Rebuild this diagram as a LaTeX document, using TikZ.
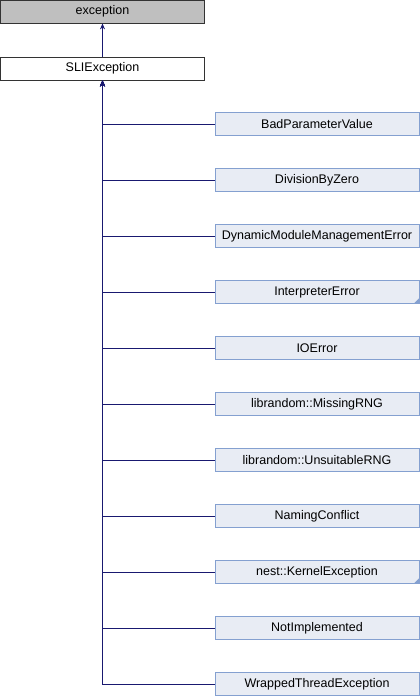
\documentclass[tikz,border=0pt]{standalone}
\usepackage{fontspec}
\setmainfont{Liberation Sans}
\usepackage{tikz}
\usetikzlibrary{arrows.meta,positioning}

\definecolor{edgeblue}{HTML}{191970}
\definecolor{boxline}{HTML}{84A0D0}
\definecolor{boxfill}{HTML}{E8ECF4}
\definecolor{basefill}{HTML}{BFBFBF}

\begin{document}
\begin{tikzpicture}[x=1pt,y=-1pt,
  class node/.style={rectangle,draw=boxline,fill=boxfill,line width=0.8pt,
    minimum width=204pt,minimum height=23pt,inner sep=0pt,font=\fontsize{12.5}{14}\selectfont},
  top node/.style={rectangle,draw=black!80,line width=0.8pt,
    minimum width=204pt,minimum height=23pt,inner sep=0pt,font=\fontsize{12.5}{14}\selectfont},
  inherit/.style={draw=edgeblue,line width=1pt,-{Stealth[length=6pt,width=5pt]}}]

  \useasboundingbox (0,0) rectangle (420,696);

  \node[top node,fill=basefill] (exception) at (102.5,11.5) {exception};
  \node[top node,fill=white] (sli) at (102.5,68.5) {SLIException};
  \draw[inherit] (sli) -- (exception);

  % derived classes
  \foreach \cls/\more [count=\i from 0] in {BadParameterValue/0,DivisionByZero/0,
      DynamicModuleManagementError/0,InterpreterError/1,IOError/0,
      librandom::MissingRNG/0,librandom::UnsuitableRNG/0,NamingConflict/0,
      nest::KernelException/1,NotImplemented/0,WrappedThreadException/0}
  {
    \node[class node] (c\i) at (317,124+56*\i) {\cls};
    \draw[inherit] (c\i.west) -| (sli.south);
    \ifnum\more=1
      \fill[boxline] (c\i.south east) -- ++(-6,0) -- ++(6,-6) -- cycle;
    \fi
  }

\end{tikzpicture}
\end{document}
